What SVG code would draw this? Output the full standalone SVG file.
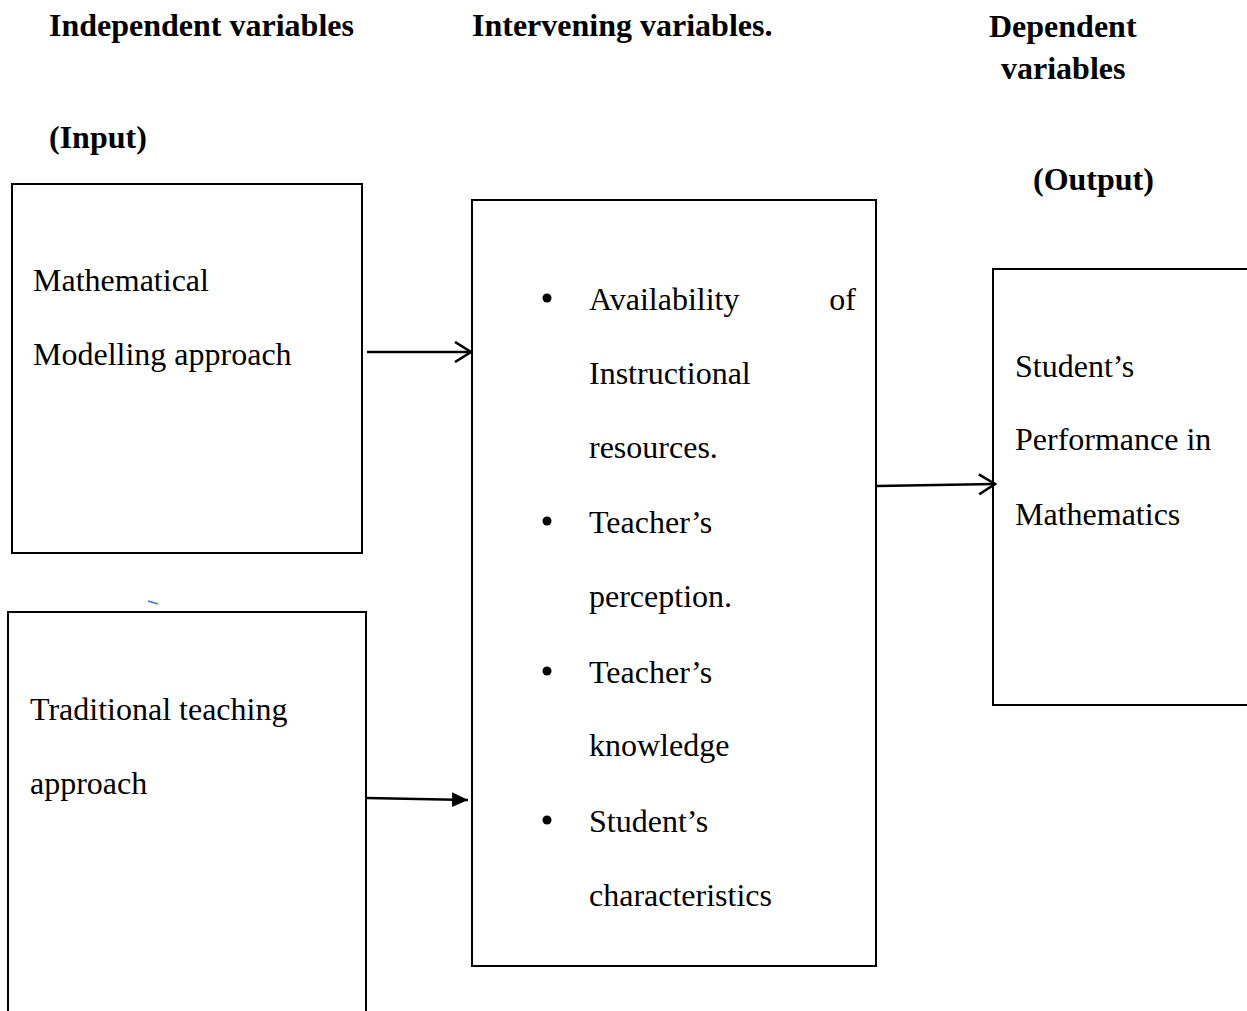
<svg xmlns="http://www.w3.org/2000/svg" width="1247" height="1011" viewBox="0 0 1247 1011">
<defs>
<style>
.h{font-family:"Liberation Serif","Times New Roman",serif;font-size:32px;font-weight:bold;fill:#000}
.t{font-family:"Liberation Serif","Times New Roman",serif;font-size:32px;fill:#000}
.box{fill:#fff;stroke:#000;stroke-width:2}
.c{stroke:#000;stroke-width:2.4;fill:none}
</style>
<marker id="open" markerWidth="22" markerHeight="22" refX="18" refY="11" orient="auto" markerUnits="userSpaceOnUse">
<path d="M2,1 L18,11 L2,21" fill="none" stroke="#000" stroke-width="2.6"/>
</marker>
<marker id="fill" markerWidth="18" markerHeight="18" refX="16" refY="9" orient="auto" markerUnits="userSpaceOnUse">
<path d="M0,1.5 L16,9 L0,16.5 Z" fill="#000"/>
</marker>
</defs>
<rect width="1247" height="1011" fill="#fff"/>
<g id="headers">
<text class="h" x="49" y="36">Independent variables</text>
<text class="h" x="472" y="36">Intervening variables.</text>
<text class="h" x="989" y="37">Dependent</text>
<text class="h" x="1001" y="79">variables</text>
<text class="h" x="49" y="148">(Input)</text>
<text class="h" x="1033" y="190">(Output)</text>
</g>
<g id="node-mm">
<rect class="box" x="12" y="184" width="350" height="369"/>
<text class="t" x="33" y="291">Mathematical</text>
<text class="t" x="33" y="365">Modelling approach</text>
</g>
<g id="node-trad">
<rect class="box" x="8" y="612" width="358" height="420"/>
<text class="t" x="30" y="720">Traditional teaching</text>
<text class="t" x="30" y="794">approach</text>
</g>
<g id="node-intervening">
<rect class="box" x="472" y="200" width="404" height="766"/>
<g fill="#000">
<circle cx="547" cy="298" r="4.5"/>
<circle cx="547" cy="521" r="4.5"/>
<circle cx="547" cy="671" r="4.5"/>
<circle cx="547" cy="820" r="4.5"/>
</g>
<text class="t" x="589" y="310">Availability</text>
<text class="t" x="856" y="310" text-anchor="end">of</text>
<text class="t" x="589" y="384">Instructional</text>
<text class="t" x="589" y="458">resources.</text>
<text class="t" x="589" y="533">Teacher’s</text>
<text class="t" x="589" y="607">perception.</text>
<text class="t" x="589" y="683">Teacher’s</text>
<text class="t" x="589" y="756">knowledge</text>
<text class="t" x="589" y="832">Student’s</text>
<text class="t" x="589" y="906">characteristics</text>
</g>
<g id="node-output">
<rect class="box" x="993" y="269" width="280" height="436"/>
<text class="t" x="1015" y="377">Student’s</text>
<text class="t" x="1015" y="450">Performance in</text>
<text class="t" x="1015" y="525">Mathematics</text>
</g>
<g id="connectors">
<line class="c" x1="367" y1="352" x2="471" y2="352" marker-end="url(#open)"/>
<line class="c" x1="367" y1="798" x2="468" y2="800" marker-end="url(#fill)"/>
<line class="c" x1="877" y1="486" x2="995" y2="484" marker-end="url(#open)"/>
</g>
<line x1="148" y1="601" x2="158" y2="604" stroke="#4472c4" stroke-width="1.6"/>
</svg>
